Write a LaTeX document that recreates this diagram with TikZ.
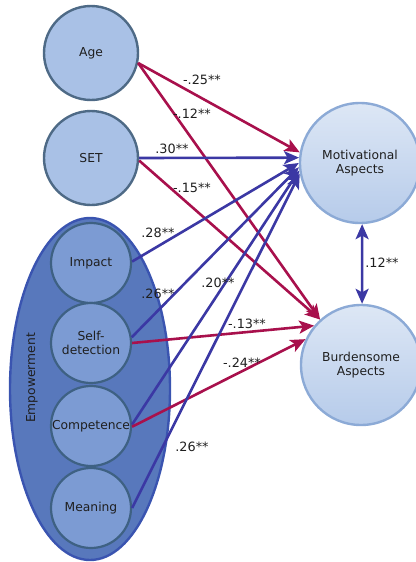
\documentclass[tikz,border=0pt]{standalone}
\usepackage{fontspec}
\setmainfont{DejaVu Sans}
\usetikzlibrary{arrows.meta,shapes.geometric}
\definecolor{pathred}{HTML}{A8104C}
\definecolor{pathblue}{HTML}{3B38A4}
\definecolor{obsfill}{HTML}{A9C1E6}
\definecolor{obsedge}{HTML}{4E6A86}
\definecolor{empfill}{HTML}{5878BC}
\definecolor{empedge}{HTML}{3A54B0}
\definecolor{dimfill}{HTML}{7C9BD3}
\definecolor{dimedge}{HTML}{3E6183}
\definecolor{outtop}{HTML}{DDE7F5}
\definecolor{outbot}{HTML}{B6CBEA}
\definecolor{outedge}{HTML}{8CAAD6}
\tikzset{
  x=1pt, y=-1pt,
  every node/.style={font=\fontsize{12.3}{14}\selectfont, text=black!88},
  observed/.style={circle, draw=obsedge, fill=obsfill, line width=2.4pt, minimum size=94pt, inner sep=0pt},
  dimension/.style={circle, draw=dimedge, fill=dimfill, line width=2.2pt, minimum size=80pt, inner sep=0pt, align=center},
  outcome/.style={circle, draw=outedge, top color=outtop, bottom color=outbot, line width=2.4pt, minimum size=120pt, inner sep=0pt, align=center},
  coef/.style={font=\fontsize{12.8}{14}\selectfont, inner sep=1pt},
  tip/.style={-{Stealth[length=15pt, width=13pt, inset=3.5pt]}},
  negpath/.style={draw=pathred, line width=2.6pt, tip},
  pospath/.style={draw=pathblue, line width=2.6pt, tip},
  bothpath/.style={draw=pathblue, line width=2.6pt, {Stealth[length=15pt, width=13pt, inset=3.5pt]}-{Stealth[length=15pt, width=13pt, inset=3.5pt]}},
}
\begin{document}
\begin{tikzpicture}
\useasboundingbox (0,0) rectangle (415,562);

% Empowerment block with its four dimensions
\node[ellipse, draw=empedge, fill=empfill, line width=2.4pt,
      minimum width=160pt, minimum height=342pt, inner sep=0pt] (emp) at (90,389) {};
\node[rotate=90] (emplabel) at (32,378) {Empowerment};
\node[dimension] (impact) at (91,263) {Impact};
\node[dimension] (self)   at (91,343) {Self-\\detection};
\node[dimension] (comp)   at (91,426) {Competence};
\node[dimension] (mean)   at (91,508) {Meaning};

% Observed predictors
\node[observed] (age) at (91,53)  {Age};
\node[observed] (set) at (91,158) {SET};

% Outcomes
\node[outcome] (mot)  at (360,163) {Motivational\\Aspects};
\node[outcome] (burd) at (361,365) {Burdensome\\Aspects};

% Paths to the outcomes
\draw[negpath] (age.-12) -- (mot.170);
\draw[negpath] (age.-12) -- (burd.132);
\draw[pospath] (set.0)   -- (mot.175);
\draw[negpath] (set.-3)  -- (burd.132);
\draw[pospath] (impact.2) -- (mot.180);
\draw[pospath] (self.8)   -- (mot.184);
\draw[negpath] (self.0)   -- (burd.140);
\draw[pospath] (comp.2)   -- (mot.187);
\draw[negpath] (comp.-1)  -- (burd.155);
\draw[pospath] (mean.0)   -- (mot.190);
\draw[bothpath] (mot.-88) -- (burd.89);

% Path coefficients
\node[coef] (c1)  at (202,80)  {-.25**};
\node[coef] (c2)  at (192,114) {-.12**};
\node[coef] (c3)  at (172,149) {.30**};
\node[coef] (c4)  at (192,188) {-.15**};
\node[coef] (c5)  at (158,233) {.28**};
\node[coef] (c6)  at (158,294) {.26**};
\node[coef] (c7)  at (218,283) {.20**};
\node[coef] (c8)  at (247,324) {-.13**};
\node[coef] (c9)  at (242,363) {-.24**};
\node[coef] (c10) at (192,447) {.26**};
\node[coef] (c11) at (382,263) {.12**};
\end{tikzpicture}
\end{document}
